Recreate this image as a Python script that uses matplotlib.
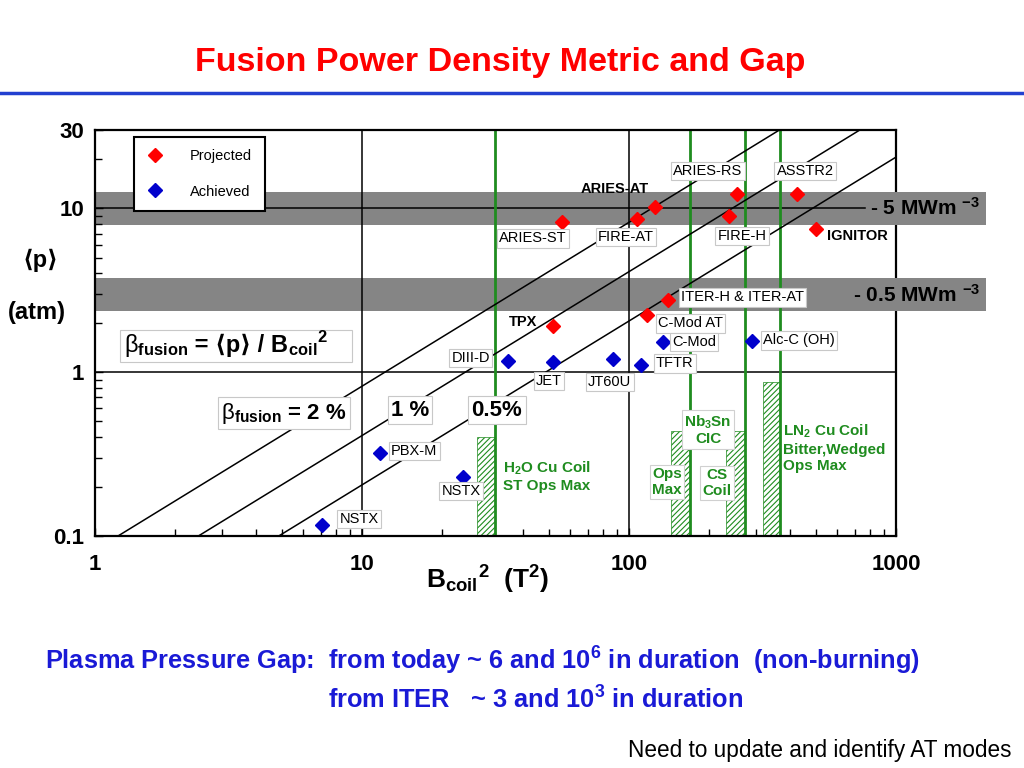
import numpy as np
import matplotlib.pyplot as plt
from matplotlib.lines import Line2D
from matplotlib.patches import Rectangle
from matplotlib.ticker import NullFormatter

plt.rcParams['font.family'] = ['Liberation Sans', 'DejaVu Sans']
plt.rcParams['mathtext.fontset'] = 'custom'
plt.rcParams['mathtext.rm'] = 'Liberation Sans'
plt.rcParams['mathtext.it'] = 'Liberation Sans:italic'
plt.rcParams['mathtext.bf'] = 'Liberation Sans:bold'
plt.rcParams['hatch.linewidth'] = 0.8

GREEN = '#1f8c1f'
RED = '#ff0000'
BLUE = '#0000cc'
BAND = '#858585'
plt.rcParams['hatch.color'] = GREEN

# ---- data ----
projected_names = ['ARIES-ST', 'FIRE-AT', 'ARIES-AT', 'ARIES-RS', 'FIRE-H',
                   'ASSTR2', 'IGNITOR', 'ITER-H & ITER-AT', 'C-Mod AT', 'TPX']
projected_b2 = [56, 107, 125, 254, 237, 426, 501, 140, 117, 52]
projected_p = [8.2, 8.6, 10.2, 12.2, 9.0, 12.2, 7.5, 2.74, 2.22, 1.9]

achieved_names = ['DIII-D', 'JET', 'JT60U', 'TFTR', 'C-Mod', 'Alc-C (OH)',
                  'PBX-M', 'NSTX', 'NSTX']
achieved_b2 = [35.2, 52, 87, 111, 134, 289, 11.7, 23.9, 7.1]
achieved_p = [1.17, 1.15, 1.2, 1.1, 1.52, 1.54, 0.32, 0.23, 0.117]

beta_values = [0.02, 0.01, 0.005]
atm_per_t2 = 4.1  # <p> (atm) per beta*B^2, as drawn on the chart

band_low = [7.9, 2.35]
band_high = [12.6, 3.73]
band_labels = ['- 5 MWm', '- 0.5 MWm']

coil_limits = [31.5, 169, 272, 368]
bar_left = [27.0, 144, 231, 318]
bar_top = [0.40, 0.44, 0.44, 0.87]

# label placement: (dx px, dy px, ha, boxed)
proj_style = [(-29, -16, 'center', True), (-11, -18, 'center', True),
              (-40, 18, 'center', False), (-29, 23, 'center', True),
              (13, -20, 'center', True), (8, 23, 'center', True),
              (11, -7, 'left', False), (13, 3, 'left', True),
              (11, -8, 'left', True), (-16, 4, 'right', False)]
ach_style = [(-18, 3, 'right', True), (-4, -19, 'center', True),
             (-3, -23, 'center', True), (15, 2, 'left', True),
             (9, 0, 'left', True), (11, 1, 'left', True),
             (11, 2, 'left', True), (-2, -14, 'center', True),
             (17, 6, 'left', True)]

W, H = 1024, 768


def fxy(px, py):
    return px / W, 1 - py / H


fig = plt.figure(figsize=(10.24, 7.68), dpi=100)
renderer = fig.canvas.get_renderer()
ax = fig.add_axes([95 / W, 1 - 536 / H, 801 / W, 406 / H])
ax.set_xscale('log')
ax.set_yscale('log')
ax.set_xlim(1, 1000)
ax.set_ylim(0.1, 30)

# power density bands (run past the right edge)
for lo, hi in zip(band_low, band_high):
    ax.add_patch(Rectangle((0, lo), (986 - 95) / 801, hi - lo, transform=ax.get_yaxis_transform(),
                           facecolor=BAND, edgecolor='none', clip_on=False, zorder=1))
for lab, ypx, xpx in zip(band_labels, [208, 295], [870, 853]):
    fig.text(*fxy(xpx, ypx), lab + r' $^{\mathbf{-3}}$', ha='left', va='center',
             fontsize=15, weight='bold', zorder=6)

ax.spines['right'].set_zorder(0.5)
for s in ax.spines.values():
    s.set_linewidth(1.6)

# grid lines
ax.axvline(10, color='k', lw=1.1, zorder=1.5)
ax.axvline(100, color='k', lw=1.1, zorder=1.5)
ax.axhline(1, color='k', lw=1.1, zorder=1.5)
ax.axhline(10, xmax=(865 - 95) / 801, color='k', lw=1.1, zorder=1.5)

# coil limits
for xl, xr, top in zip(bar_left, coil_limits, bar_top):
    ax.fill_between([xl, xr], 0.1, top, facecolor='white', edgecolor=GREEN,
                    hatch='//////', lw=0.5, zorder=1.8)
for x in coil_limits:
    ax.axvline(x, color=GREEN, lw=2, zorder=2)

# beta lines
xs = np.logspace(0, 3, 300)
for b in beta_values:
    ax.plot(xs, atm_per_t2 * b * xs, color='k', lw=1.1, zorder=3)

# points
ax.plot(projected_b2, projected_p, 'D', color=RED, ms=7, mec=RED, zorder=4, clip_on=False)
ax.plot(achieved_b2, achieved_p, 'D', color=BLUE, ms=7, mec=BLUE, zorder=4, clip_on=False)

box = dict(boxstyle='square,pad=0.15', facecolor='white', edgecolor='#c8c8c8', lw=0.8)
for names, xv, yv, style in [(projected_names, projected_b2, projected_p, proj_style),
                             (achieved_names, achieved_b2, achieved_p, ach_style)]:
    for n, x, y, (dx, dy, ha, boxed) in zip(names, xv, yv, style):
        ax.annotate(n, (x, y), xytext=(dx, dy), textcoords='offset pixels',
                    ha=ha, va='center', fontsize=10.5,
                    weight='normal' if boxed else 'bold',
                    bbox=box if boxed else None, zorder=5)

# beta labels
lbox = dict(boxstyle='square,pad=0.15', facecolor='white', edgecolor='#c8c8c8', lw=0.8)
fig.text(*fxy(284, 413), r'$\mathrm{\beta}_{\mathbf{fusion}}$ = 2 %', ha='center', va='center',
         fontsize=16, weight='bold', bbox=lbox, zorder=6)
fig.text(*fxy(410, 410), '1 %', ha='center', va='center', fontsize=16, weight='bold',
         bbox=lbox, zorder=6)
fig.text(*fxy(497, 410), '0.5%', ha='center', va='center', fontsize=16, weight='bold',
         bbox=lbox, zorder=6)

# beta definition box, pieces chained on one baseline
fig.add_artist(Rectangle(fxy(120, 362), 232 / W, 32 / H, transform=fig.transFigure,
                         facecolor='white', edgecolor='#c8c8c8', lw=0.8, zorder=5))
x_cur = 124
for piece in [r'$\mathrm{\beta}_{\mathbf{fusion}}$', ' = \u27e8p\u27e9 / B',
              r'$_{\mathbf{coil}}$$^{\mathbf{2}}$']:
    t = fig.text(x_cur / W, 1 - 352 / H, piece, ha='left', va='baseline',
                 fontsize=17, weight='bold', zorder=6)
    x_cur = t.get_window_extent(renderer).x1

# coil annotations
gbox = dict(boxstyle='square,pad=0.15', facecolor='white', edgecolor='#d0d0d0', lw=0.8)
fig.text(*fxy(503, 476), 'H$_{\\mathbf{2}}$O Cu Coil\nST Ops Max', ha='left', va='center',
         fontsize=11, weight='bold', color=GREEN, linespacing=1.2)
fig.text(*fxy(667, 482), 'Ops\nMax', ha='center', va='center', fontsize=11,
         weight='bold', color=GREEN, bbox=gbox, linespacing=1.1, multialignment='left')
fig.text(*fxy(708, 430), 'Nb$_{\\mathbf{3}}$Sn\nCIC', ha='center', va='center', fontsize=11,
         weight='bold', color=GREEN, bbox=gbox, linespacing=1.1, multialignment='center')
fig.text(*fxy(717, 483), 'CS\nCoil', ha='center', va='center', fontsize=11,
         weight='bold', color=GREEN, bbox=gbox, linespacing=1.1, multialignment='center')
fig.text(*fxy(783, 448), 'LN$_{\\mathbf{2}}$ Cu Coil\nBitter,Wedged\nOps Max', ha='left',
         va='center', fontsize=11, weight='bold', color=GREEN, linespacing=1.25)

# legend
hp = Line2D([], [], marker='D', color=RED, ls='none', ms=7)
ha_ = Line2D([], [], marker='D', color=BLUE, ls='none', ms=7)
leg = ax.legend([hp, ha_], ['Projected', 'Achieved'], loc='upper left',
                bbox_to_anchor=fxy(134, 137), bbox_transform=fig.transFigure,
                fancybox=False, edgecolor='black', framealpha=1, fontsize=10.5,
                labelspacing=1.45, handletextpad=1.8, borderpad=0.85, borderaxespad=0,
                handlelength=1.2)
leg.get_frame().set_linewidth(1.5)
leg.set_zorder(7)

# ticks
ax.set_xticks([1, 10, 100, 1000], ['1', '10', '100', '1000'])
ax.set_yticks([0.1, 1, 10, 30], ['0.1', '1', '10', '30'])
ax.xaxis.set_minor_formatter(NullFormatter())
ax.yaxis.set_minor_formatter(NullFormatter())
ax.tick_params(which='both', direction='in', width=1, labelsize=16)
ax.tick_params(which='major', length=6)
ax.tick_params(which='minor', length=5)
ax.tick_params(axis='x', pad=13)
ax.tick_params(axis='y', pad=8)
for t in ax.get_xticklabels() + ax.get_yticklabels():
    t.set_fontweight('bold')

# axis labels
fig.text(*fxy(40, 260), '\u27e8p\u27e9', ha='center', va='center', fontsize=17, weight='bold')
fig.text(*fxy(37, 312), '(atm)', ha='center', va='center', fontsize=17, weight='bold')
fig.text(*fxy(488, 580), r'B$_{\mathbf{coil}}$$^{\mathbf{2}}$  (T$^{\mathbf{2}}$)',
         ha='center', va='center', fontsize=19, weight='bold')

# title and notes
fig.text(*fxy(500, 62), 'Fusion Power Density Metric and Gap', ha='center', va='center',
         fontsize=24.5, weight='bold', color=RED)
fig.add_artist(Line2D([0, 1], [1 - 93 / H] * 2, color='#2240d0', lw=2.5,
                      transform=fig.transFigure))
fig.text(*fxy(45, 661),
         r'Plasma Pressure Gap:  from today ~ 6 and 10$^{\mathbf{6}}$ in duration  (non-burning)',
         ha='left', va='center', fontsize=18.3, weight='bold', color='#1a1ad6')
fig.text(*fxy(328, 700), r'from ITER   ~ 3 and 10$^{\mathbf{3}}$ in duration',
         ha='left', va='center', fontsize=18.3, weight='bold', color='#1a1ad6')
fig.text(*fxy(1012, 750), 'Need to update and identify AT modes', ha='right', va='center',
         fontsize=16.3, color='black')

fig.savefig('out.png', dpi=100)
